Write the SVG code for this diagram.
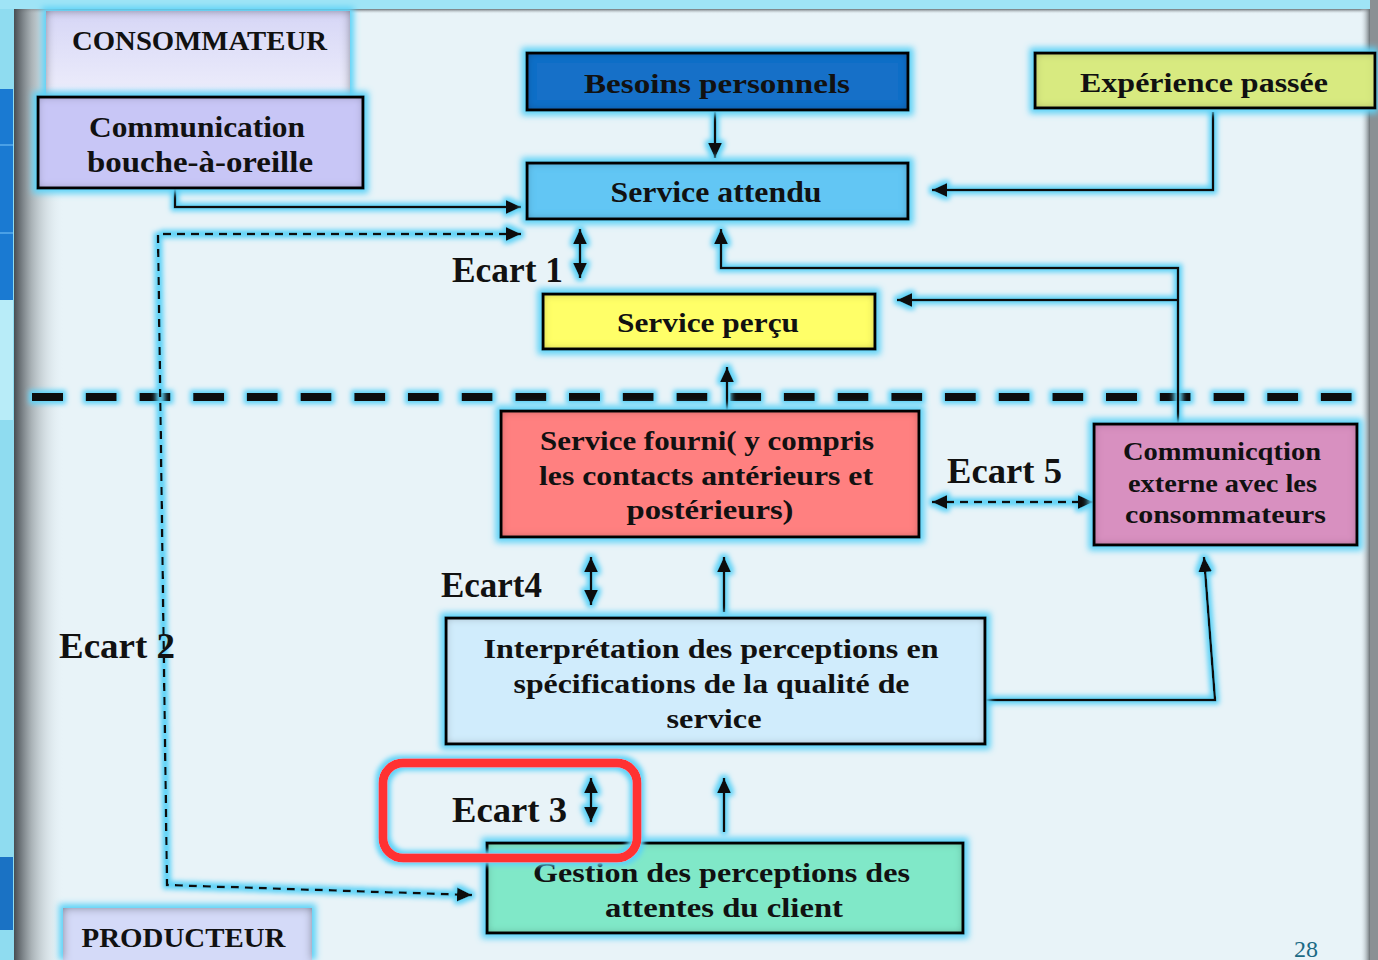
<svg xmlns="http://www.w3.org/2000/svg" width="1378" height="960" viewBox="0 0 1378 960">
<defs>
<style>
.t{font-family:"Liberation Serif","Times New Roman",serif;font-weight:bold;fill:#111}
.f26{font-size:26px}.f28{font-size:28px}.f30{font-size:30px}.f36{font-size:36px}
.box{stroke:#111;stroke-width:3}
.ln{fill:none;stroke:#111;stroke-width:2.5}
.dsh{stroke-dasharray:8 6}
</style>
<marker id="ah" markerUnits="userSpaceOnUse" viewBox="0 0 16 16" markerWidth="16" markerHeight="16" refX="15" refY="8" orient="auto-start-reverse">
<path d="M0,1 L15,8 L0,15 z" fill="#111"/>
</marker>
<filter id="glow" filterUnits="userSpaceOnUse" x="0" y="0" width="1378" height="960">
<feMorphology in="SourceAlpha" operator="dilate" radius="3" result="d"/>
<feGaussianBlur in="d" stdDeviation="2.5" result="b"/>
<feFlood flood-color="#5cd2f7"/>
<feComposite in2="b" operator="in" result="g"/>
<feMerge><feMergeNode in="g"/><feMergeNode in="SourceGraphic"/></feMerge>
</filter>
<filter id="bx" filterUnits="userSpaceOnUse" x="0" y="0" width="1378" height="960">
<feMorphology in="SourceAlpha" operator="dilate" radius="4" result="d"/>
<feGaussianBlur in="d" stdDeviation="3" result="b"/>
<feFlood flood-color="#5cd2f7"/>
<feComposite in2="b" operator="in" result="g"/>
<feComponentTransfer in="SourceAlpha" result="inv"><feFuncA type="table" tableValues="1 0"/></feComponentTransfer>
<feGaussianBlur in="inv" stdDeviation="5" result="ib"/>
<feFlood flood-color="#000" flood-opacity="0.75"/>
<feComposite in2="ib" operator="in" result="s"/>
<feComposite in="s" in2="SourceAlpha" operator="in" result="is"/>
<feMerge><feMergeNode in="g"/><feMergeNode in="SourceGraphic"/><feMergeNode in="is"/></feMerge>
</filter>
<linearGradient id="lsh" x1="0" y1="0" x2="1" y2="0">
<stop offset="0" stop-color="#474d52"/>
<stop offset="0.35" stop-color="#9aa2a6" stop-opacity="0.8"/>
<stop offset="1" stop-color="#e8f3f8" stop-opacity="0"/>
</linearGradient>
<linearGradient id="rsh" x1="0" y1="0" x2="1" y2="0">
<stop offset="0" stop-color="#e8f3f8" stop-opacity="0"/>
<stop offset="1" stop-color="#6a7074"/>
</linearGradient>
<linearGradient id="tsh" x1="0" y1="0" x2="0" y2="1">
<stop offset="0" stop-color="#6a7074"/>
<stop offset="1" stop-color="#e8f3f8" stop-opacity="0"/>
</linearGradient>
<linearGradient id="cons" x1="0" y1="0" x2="0" y2="1">
<stop offset="0" stop-color="#d6d6f6"/>
<stop offset="1" stop-color="#eeeefb"/>
</linearGradient>
</defs>

<g id="background">
<rect x="0" y="0" width="1378" height="960" fill="#8fdcf0"/>
<rect x="0" y="0" width="1378" height="9" fill="#9fe4f6"/>
<rect x="14" y="9" width="1356" height="951" fill="#e8f3f8"/>
<rect x="14" y="9" width="1356" height="5" fill="url(#tsh)"/>
<rect x="14" y="9" width="50" height="951" fill="url(#lsh)"/>
<rect x="1360" y="9" width="10" height="951" fill="url(#rsh)"/>
<rect x="1370" y="0" width="8" height="960" fill="#8a9094"/>
<rect x="0" y="89" width="13" height="211" fill="#1a7ad2"/>
<rect x="0" y="144" width="13" height="2" fill="#4aa0e6"/>
<rect x="0" y="232" width="13" height="2" fill="#4aa0e6"/>
<rect x="0" y="300" width="13" height="120" fill="#b8ecf8"/>
<rect x="0" y="857" width="13" height="73" fill="#1a72c4"/>
</g>

<g id="separator" filter="url(#glow)">
<path d="M32,397 H1360" stroke="#111" stroke-width="8" stroke-dasharray="31 22.7" fill="none"/>
</g>

<g id="connectors" filter="url(#glow)">
<path class="ln" d="M715,112 V158" marker-end="url(#ah)"/>
<path class="ln" d="M1213,112 V190 H932" marker-end="url(#ah)"/>
<path class="ln" d="M175,188 V207 H521" marker-end="url(#ah)"/>
<path class="ln dsh" d="M521,234 H158 L167,885 L472,895" marker-start="url(#ah)" marker-end="url(#ah)"/>
<path class="ln" d="M580,229 V278" marker-start="url(#ah)" marker-end="url(#ah)"/>
<path class="ln" d="M721,229 V268 H1178 V424" marker-start="url(#ah)"/>
<path class="ln" d="M1178,300 H897" marker-end="url(#ah)"/>
<path class="ln" d="M727,411 V367" marker-end="url(#ah)"/>
<path class="ln dsh" d="M932,502 H1093" marker-start="url(#ah)" marker-end="url(#ah)"/>
<path class="ln" d="M591,557 V605" marker-start="url(#ah)" marker-end="url(#ah)"/>
<path class="ln" d="M724,612 V557" marker-end="url(#ah)"/>
<path class="ln" d="M591,778 V822" marker-start="url(#ah)" marker-end="url(#ah)"/>
<path class="ln" d="M724,832 V778" marker-end="url(#ah)"/>
<path class="ln" d="M986,700 H1215 L1204,557" marker-end="url(#ah)"/>
</g>

<g id="consommateur">
<rect x="46" y="11" width="304" height="88" fill="url(#cons)" filter="url(#bx)"/>
<text class="t f28" x="199.5" y="50" text-anchor="middle" textLength="255" lengthAdjust="spacingAndGlyphs">CONSOMMATEUR</text>
</g>

<g id="bouche-a-oreille">
<rect class="box" x="38" y="97" width="325" height="91" fill="#c8c6f6" filter="url(#bx)"/>
<text class="t f30" x="197" y="137" text-anchor="middle" textLength="216" lengthAdjust="spacingAndGlyphs">Communication</text>
<text class="t f30" x="200" y="172" text-anchor="middle" textLength="226" lengthAdjust="spacingAndGlyphs">bouche-à-oreille</text>
</g>

<g id="besoins">
<rect class="box" x="527" y="53" width="381" height="57" fill="#1470c8" filter="url(#bx)"/>
<text class="t f28" x="717" y="93" text-anchor="middle" textLength="266" lengthAdjust="spacingAndGlyphs">Besoins personnels</text>
</g>

<g id="experience">
<rect class="box" x="1035" y="53" width="340" height="55" fill="#d8ea80" filter="url(#bx)"/>
<text class="t f28" x="1204" y="92" text-anchor="middle" textLength="248" lengthAdjust="spacingAndGlyphs">Expérience passée</text>
</g>

<g id="service-attendu">
<rect class="box" x="527" y="163" width="381" height="56" fill="#62c6f4" filter="url(#bx)"/>
<text class="t f30" x="716" y="202" text-anchor="middle" textLength="211" lengthAdjust="spacingAndGlyphs">Service attendu</text>
</g>

<g id="service-percu">
<rect class="box" x="543" y="294" width="332" height="55" fill="#ffff68" filter="url(#bx)"/>
<text class="t f28" x="708" y="332" text-anchor="middle" textLength="182" lengthAdjust="spacingAndGlyphs">Service perçu</text>
</g>

<g id="service-fourni">
<rect class="box" x="501" y="411" width="418" height="126" fill="#ff8080" filter="url(#bx)"/>
<text class="t f28" x="707" y="450" text-anchor="middle" textLength="334" lengthAdjust="spacingAndGlyphs">Service fourni( y compris</text>
<text class="t f28" x="706" y="485" text-anchor="middle" textLength="334" lengthAdjust="spacingAndGlyphs">les contacts antérieurs et</text>
<text class="t f28" x="710" y="519" text-anchor="middle" textLength="167" lengthAdjust="spacingAndGlyphs">postérieurs)</text>
</g>

<g id="communication-externe">
<rect class="box" x="1094" y="424" width="263" height="121" fill="#d890c0" filter="url(#bx)"/>
<text class="t f26" x="1222" y="460" text-anchor="middle" textLength="198" lengthAdjust="spacingAndGlyphs">Communicqtion</text>
<text class="t f26" x="1222.5" y="492" text-anchor="middle" textLength="189" lengthAdjust="spacingAndGlyphs">externe avec les</text>
<text class="t f26" x="1225.5" y="523" text-anchor="middle" textLength="201" lengthAdjust="spacingAndGlyphs">consommateurs</text>
</g>

<g id="interpretation">
<rect class="box" x="446" y="618" width="539" height="126" fill="#d0ecfc" filter="url(#bx)"/>
<text class="t f28" x="711" y="658" text-anchor="middle" textLength="455" lengthAdjust="spacingAndGlyphs">Interprétation des perceptions en</text>
<text class="t f28" x="711.5" y="693" text-anchor="middle" textLength="396" lengthAdjust="spacingAndGlyphs">spécifications de la qualité de</text>
<text class="t f28" x="714" y="728" text-anchor="middle" textLength="95" lengthAdjust="spacingAndGlyphs">service</text>
</g>

<g id="gestion">
<rect class="box" x="487" y="843" width="476" height="90" fill="#80e8c8" filter="url(#bx)"/>
<text class="t f28" x="721.5" y="882" text-anchor="middle" textLength="377" lengthAdjust="spacingAndGlyphs">Gestion des perceptions des</text>
<text class="t f28" x="724" y="917" text-anchor="middle" textLength="238" lengthAdjust="spacingAndGlyphs">attentes du client</text>
</g>

<g id="producteur">
<rect x="63" y="908" width="249" height="60" fill="#d4daf8" filter="url(#bx)"/>
<text class="t f28" x="183.5" y="947" text-anchor="middle" textLength="204" lengthAdjust="spacingAndGlyphs">PRODUCTEUR</text>
</g>

<g id="labels">
<text class="t f36" x="452" y="282" textLength="111" lengthAdjust="spacingAndGlyphs">Ecart 1</text>
<text class="t f36" x="59" y="658" textLength="116" lengthAdjust="spacingAndGlyphs">Ecart 2</text>
<text class="t f36" x="441" y="597" textLength="101" lengthAdjust="spacingAndGlyphs">Ecart4</text>
<text class="t f36" x="452" y="822" textLength="115" lengthAdjust="spacingAndGlyphs">Ecart 3</text>
<text class="t f36" x="947" y="483" textLength="115" lengthAdjust="spacingAndGlyphs">Ecart 5</text>
</g>

<g id="highlight" filter="url(#glow)">
<rect x="383" y="763" width="254" height="95" rx="20" ry="20" fill="none" stroke="#ff3030" stroke-width="9"/>
</g>

<text x="1294" y="957" style="font-family:'Liberation Serif',serif;font-size:24px;fill:#1b6a85">28</text>
</svg>
